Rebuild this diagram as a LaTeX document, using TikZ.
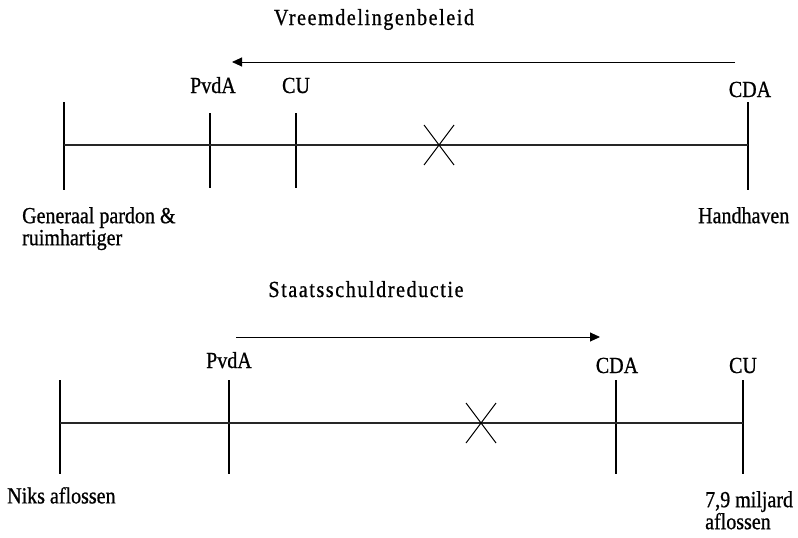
\documentclass[tikz,border=0pt]{standalone}
\usepackage{fontspec}
\setmainfont{Liberation Serif}[FakeStretch=0.87,FakeBold=0.8]
\usetikzlibrary{positioning,arrows.meta}

\begin{document}
\begin{tikzpicture}[
  x=1pt,y=-1pt,
  font=\fontsize{23}{22}\selectfont,
  every node/.style={inner sep=0pt},
  tickline/.style={draw,line width=1.5pt},
  axisline/.style={draw,line width=1.5pt,black!85},
  shiftarrow/.style={draw,-{Triangle[length=10pt,width=9pt]},line width=0.9pt},
  cross/.style={draw,line width=1pt},
  party/.style={anchor=base},
  heading/.style={anchor=base,font=\fontsize{23}{22}\selectfont\addfontfeature{LetterSpace=7}},
  pole/.style={anchor=north west,align=left}
  ]
  \useasboundingbox (0,0) rectangle (798,538);

  % Vreemdelingenbeleid
  \node[heading] (h1) at (374,25) {Vreemdelingenbeleid};

  \coordinate (a1) at (64,145);
  \coordinate (a2) at (210,145);
  \coordinate (a3) at (296,145);
  \coordinate (a4) at (748,145);
  \path[tickline] (64,102) -- (64,190);
  \path[tickline] (210,113) -- (210,188);
  \path[tickline] (296,113) -- (296,188);
  \path[tickline] (748,102) -- (748,190);
  \path[axisline] (a1) -- (a4);

  \node[party] (p1) at (213,93) {PvdA};
  \node[party] (p2) at (296,93) {CU};
  \node[party] (p3) at (750,97) {CDA};

  \coordinate (s1) at (735,62);
  \coordinate (e1) at (232,62);
  \path[shiftarrow] (s1) -- (e1);

  \coordinate (x1) at (439,145);
  \path[cross] (x1) ++(-15,-20) -- ++(30,40) (x1) ++(15,-20) -- ++(-30,40);

  \node[pole] (l1) at (22,207) {Generaal pardon \&\\ruimhartiger};
  \node[pole] (r1) at (698,207) {Handhaven};

  % Staatsschuldreductie
  \node[heading] (h2) at (366,297) {Staatsschuldreductie};

  \coordinate (b1) at (60,423);
  \coordinate (b2) at (229,423);
  \coordinate (b3) at (616,423);
  \coordinate (b4) at (743,423);
  \foreach \x in {60,229,616,743}
    \path[tickline] (\x,380) -- (\x,474);
  \path[axisline] (b1) -- (b4);

  \node[party] (q1) at (229,368) {PvdA};
  \node[party] (q2) at (617,373) {CDA};
  \node[party] (q3) at (743,373) {CU};

  \coordinate (s2) at (236,337);
  \coordinate (e2) at (600,337);
  \path[shiftarrow] (s2) -- (e2);

  \coordinate (x2) at (481,423);
  \path[cross] (x2) ++(-15,-20) -- ++(30,40) (x2) ++(15,-20) -- ++(-30,40);

  \node[pole] (l2) at (7,487) {Niks aflossen};
  \node[pole] (r2) at (705,491) {7,9 miljard\\aflossen};
\end{tikzpicture}
\end{document}
